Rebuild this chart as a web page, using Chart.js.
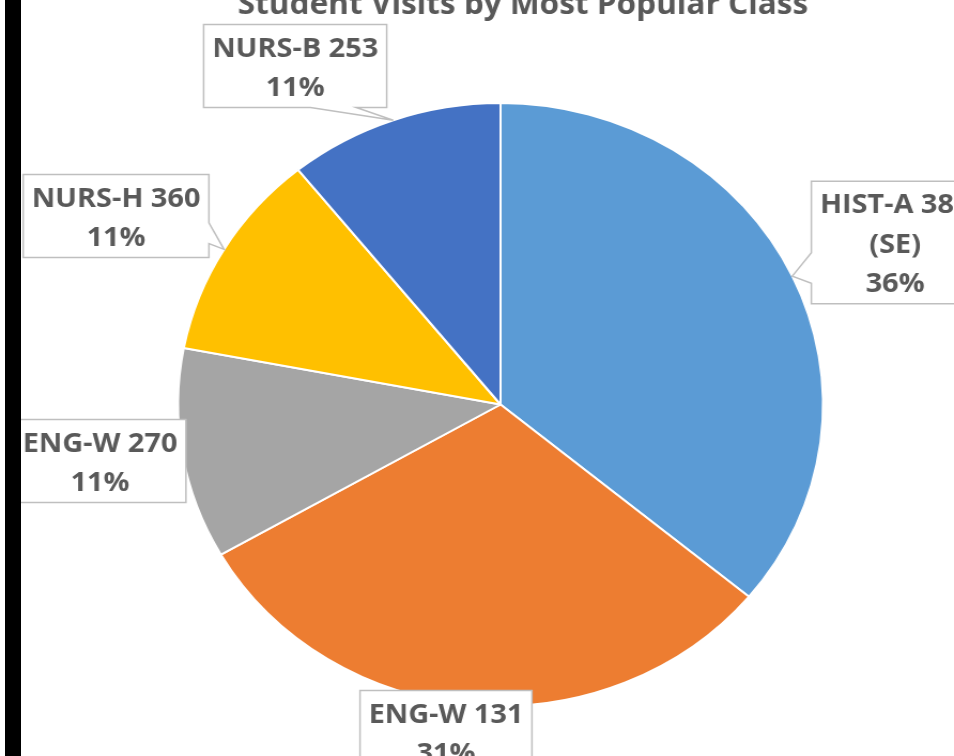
<!DOCTYPE html>
<html lang="en">
<head>
  <meta charset="UTF-8">
  <title>Student Visits by Most Popular Class</title>
  <script src="https://cdn.jsdelivr.net/npm/chart.js"></script>
  <style>
    body {
      margin: 0;
      width: 954px;
      height: 756px;
      overflow: hidden;
      position: relative;
      background: #fff;
    }

    /* the source screenshot is stretched sideways, so the canvas is too */
    #visitsChart {
      position: absolute;
      left: 0;
      top: -40px;
      transform: scaleX(1.0695);
      transform-origin: 0 0;
    }

    .edge {
      position: absolute;
      left: 5px;
      top: 0;
      width: 16px;
      height: 756px;
      background: #000;
    }
  </style>
</head>
<body>

<canvas id="visitsChart" width="892" height="796"></canvas>
<div class="edge"></div>

<script>
  const chartTitle = 'Student Visits by Most Popular Class';
  const classes = ['HIST-A 382\n(SE)', 'ENG-W 131', 'ENG-W 270', 'NURS-H 360', 'NURS-B 253'];
  const shares = [36.0, 30.7, 11.3, 11.2, 10.8];
  const sliceColors = ['#5B9BD5', '#ED7D31', '#A5A5A5', '#FFC000', '#4472C4'];

  // Excel style rectangular callout with a wedge pointing at the slice
  function calloutPath(ctx, l, t, w, h, px, py) {
    const r = l + w, b = t + h;
    ctx.beginPath();
    if (px >= l && px <= r && py >= t && py <= b) {
      ctx.rect(l, t, w, h);
      return;
    }
    const dxPos = px - (l + w / 2);
    const dyPos = py - (t + h / 2);
    const dz = Math.abs(dyPos) - Math.abs(dxPos * h / w);
    const x1 = l + w * (dxPos > 0 ? 7 : 2) / 12;
    const x2 = l + w * (dxPos > 0 ? 10 : 5) / 12;
    const y1 = t + h * (dyPos > 0 ? 7 : 2) / 12;
    const y2 = t + h * (dyPos > 0 ? 10 : 5) / 12;
    const pts = [[l, t]];
    if (dz > 0 && dyPos < 0) pts.push([x1, t], [px, py], [x2, t]);
    pts.push([r, t]);
    if (dz <= 0 && dxPos > 0) pts.push([r, y1], [px, py], [r, y2]);
    pts.push([r, b]);
    if (dz > 0 && dyPos > 0) pts.push([x2, b], [px, py], [x1, b]);
    pts.push([l, b]);
    if (dz <= 0 && dxPos < 0) pts.push([l, y2], [px, py], [l, y1]);
    pts.forEach(([x, y], k) => k ? ctx.lineTo(x, y) : ctx.moveTo(x, y));
    ctx.closePath();
  }

  const calloutPlugin = {
    id: 'callouts',
    afterDatasetsDraw(chart, args, opts) {
      const ctx = chart.ctx;
      const meta = chart.getDatasetMeta(0);
      const cx = meta.data[0].x, cy = meta.data[0].y;
      const total = shares.reduce((a, b) => a + b, 0);

      ctx.save();
      ctx.fillStyle = opts.color;
      ctx.textAlign = 'center';
      ctx.textBaseline = 'alphabetic';
      ctx.font = opts.titleFont;
      ctx.fillText(chartTitle, cx + opts.titleAt[0], cy + opts.titleAt[1]);

      ctx.font = opts.font;
      meta.data.forEach((arc, i) => {
        const lines = classes[i].split('\n');
        lines.push(Math.round(shares[i] / total * 100) + '%');
        const w = Math.max(...lines.map(s => ctx.measureText(s).width)) + opts.padX * 2;
        const h = lines.length * opts.lineHeight + opts.padY;
        const l = cx + opts.boxes[i][0] - w / 2;
        const t = cy + opts.boxes[i][1] - h / 2;
        const mid = (arc.startAngle + arc.endAngle) / 2;
        const tipX = arc.x + Math.cos(mid) * arc.outerRadius;
        const tipY = arc.y + Math.sin(mid) * arc.outerRadius;

        calloutPath(ctx, l, t, w, h, tipX, tipY);
        ctx.fillStyle = '#fff';
        ctx.fill();
        ctx.strokeStyle = opts.border;
        ctx.lineWidth = 1.5;
        ctx.stroke();

        ctx.fillStyle = opts.color;
        lines.forEach((s, k) => {
          ctx.fillText(s, l + w / 2, t + opts.firstBaseline + k * opts.lineHeight);
        });
      });
      ctx.restore();
    }
  };

  const ctx1 = document.getElementById('visitsChart').getContext('2d');
  new Chart(ctx1, {
    type: 'pie',
    data: {
      labels: classes,
      datasets: [{
        data: shares,
        backgroundColor: sliceColors,
        borderColor: '#fff',
        borderWidth: 2
      }]
    },
    options: {
      responsive: false,
      animation: false,
      radius: 301.5,
      layout: { padding: { left: 44, right: 0, top: 93, bottom: 0 } },
      plugins: {
        legend: { display: false },
        tooltip: { enabled: false },
        callouts: {
          color: '#595959',
          border: '#BFBFBF',
          titleFont: 'bold 29.5px "Open Sans"',
          titleAt: [21, -390.5],
          font: 'bold 27px "Open Sans"',
          lineHeight: 39.5,
          firstBaseline: 32,
          padX: 8,
          padY: 4,
          boxes: [[369, -162], [-51, 327.5], [-374.5, 56.5], [-359.5, -188.5], [-192, -338.5]]
        }
      }
    },
    plugins: [calloutPlugin]
  });
</script>

</body>
</html>
